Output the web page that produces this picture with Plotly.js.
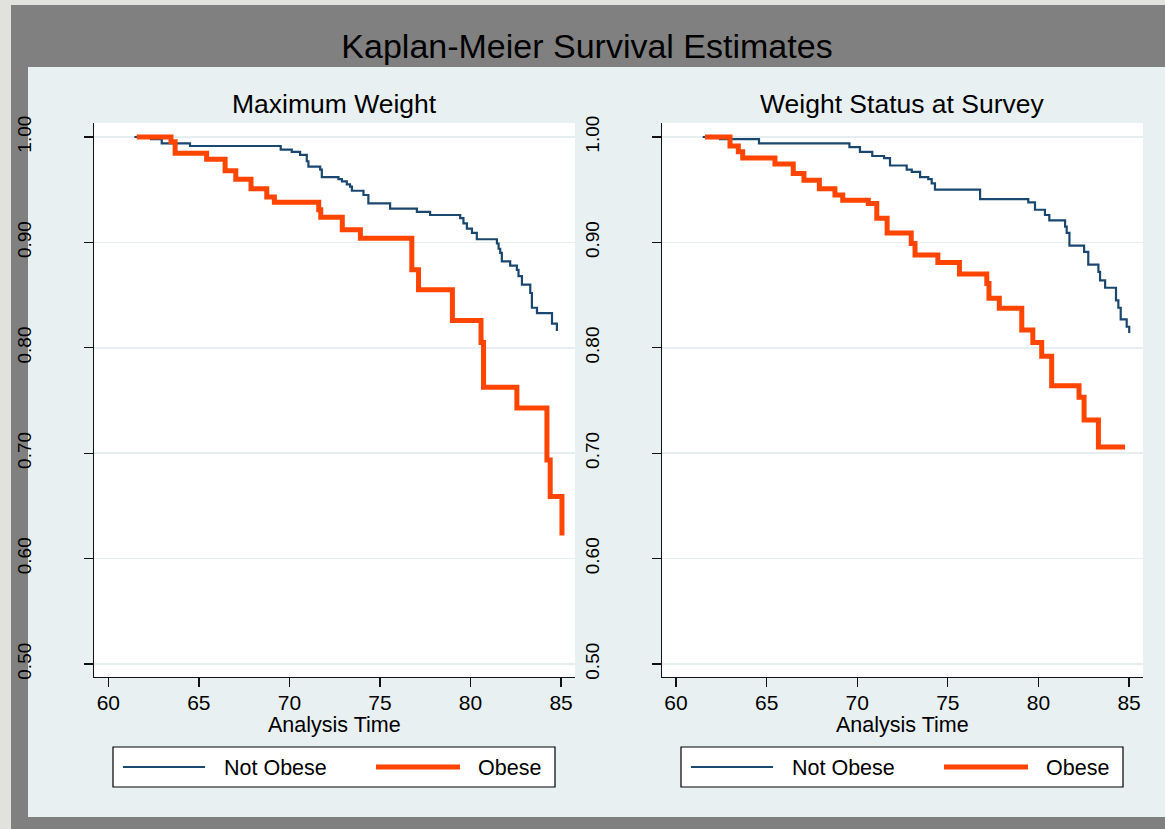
<!DOCTYPE html>
<html>
<head>
<meta charset="utf-8">
<script src="https://cdn.plot.ly/plotly-3.0.1.min.js"></script>
<style>html,body{margin:0;padding:0;background:#e8f0f2;}#chart{width:1165px;height:829px;}</style>
</head>
<body>
<div id="chart"></div>
<script>
// ---------- data ----------
const groupNames = ["Not Obese", "Obese"];
const panelTitles = ["Maximum Weight", "Weight Status at Survey"];
const mainTitle = "Kaplan-Meier Survival Estimates";
const xAxisTitle = "Analysis Time";
const xTickVals = [60, 65, 70, 75, 80, 85];
const yTickVals = [0.5, 0.6, 0.7, 0.8, 0.9, 1.0];

// Panel 1: Maximum Weight
const maxNotObeseTime = [61.44, 62.36, 62.95, 64.51, 69.52, 70.13, 70.59, 70.96, 71.05, 71.70, 71.79, 72.71, 72.90, 73.17, 73.35, 73.45, 74.09, 74.36, 75.56, 77.04, 77.77, 79.43, 79.61, 79.80, 80.08, 80.35, 81.46, 81.55, 81.64, 81.73, 82.19, 82.56, 82.65, 82.84, 83.30, 83.39, 83.67, 84.50, 84.77];
const maxNotObeseSurv = [1.000, 0.998, 0.994, 0.9915, 0.988, 0.986, 0.983, 0.977, 0.972, 0.969, 0.962, 0.960, 0.958, 0.955, 0.953, 0.949, 0.945, 0.937, 0.932, 0.929, 0.926, 0.923, 0.918, 0.913, 0.909, 0.903, 0.899, 0.894, 0.890, 0.882, 0.878, 0.874, 0.868, 0.860, 0.852, 0.838, 0.833, 0.823, 0.816];
const maxObeseTime = [61.57, 63.46, 63.69, 65.43, 66.45, 67.04, 67.88, 68.75, 69.17, 71.62, 71.73, 72.92, 73.92, 76.76, 77.13, 79.00, 80.58, 80.72, 82.56, 84.22, 84.40, 85.05];
const maxObeseSurv = [1.000, 0.9955, 0.9845, 0.979, 0.968, 0.960, 0.951, 0.943, 0.938, 0.931, 0.924, 0.912, 0.904, 0.874, 0.855, 0.826, 0.805, 0.7625, 0.743, 0.6935, 0.659, 0.622];

// Panel 2: Weight Status at Survey
const surveyNotObeseTime = [61.47, 62.43, 64.58, 69.57, 70.15, 70.83, 71.48, 71.81, 72.73, 73.01, 73.47, 73.92, 74.11, 74.29, 76.78, 79.44, 79.81, 80.36, 80.60, 81.47, 81.56, 81.71, 82.52, 82.75, 83.31, 83.40, 83.68, 84.28, 84.41, 84.54, 84.87, 85.01];
const surveyNotObeseSurv = [1.000, 0.998, 0.994, 0.9905, 0.986, 0.982, 0.980, 0.973, 0.969, 0.967, 0.962, 0.960, 0.956, 0.950, 0.941, 0.938, 0.931, 0.926, 0.921, 0.915, 0.909, 0.897, 0.891, 0.879, 0.872, 0.864, 0.857, 0.845, 0.838, 0.827, 0.820, 0.814];
const surveyObeseTime = [61.60, 62.98, 63.44, 63.68, 65.46, 66.47, 67.06, 67.91, 68.77, 69.20, 70.61, 71.08, 71.65, 72.98, 73.19, 74.45, 75.64, 77.15, 77.27, 77.84, 79.08, 79.69, 80.18, 80.73, 82.24, 82.52, 83.31, 84.78];
const surveyObeseSurv = [1.000, 0.9915, 0.986, 0.980, 0.9744, 0.9655, 0.959, 0.951, 0.945, 0.940, 0.937, 0.923, 0.909, 0.899, 0.888, 0.881, 0.870, 0.861, 0.847, 0.8375, 0.817, 0.805, 0.792, 0.764, 0.753, 0.7315, 0.706, 0.706];

// ---------- styling ----------
const W = 1165, H = 829;
const FONT = "Liberation Sans, Arial, Helvetica, sans-serif";
const NAVY = "#1a476f", ORANGE = "#ff4500";
const PANEL = "#e8f0f2", FRAME = "#808080", OUTER = "#e1e2dd", GRID = "#e6eef0";
const px = v => v / W;           // pixel -> paper x
const py = v => 1 - v / H;       // pixel -> paper y

function stepTrace(x, y, color, width, xa, ya, name) {
  return {x: x, y: y, type: "scatter", mode: "lines", name: name,
          line: {shape: "hv", color: color, width: width},
          xaxis: xa, yaxis: ya, showlegend: false, hoverinfo: "x+y"};
}

const data = [
  stepTrace(maxNotObeseTime, maxNotObeseSurv, NAVY, 2.2, "x", "y", groupNames[0]),
  stepTrace(maxObeseTime, maxObeseSurv, ORANGE, 5, "x", "y", groupNames[1]),
  stepTrace(surveyNotObeseTime, surveyNotObeseSurv, NAVY, 2.2, "x2", "y2", groupNames[0]),
  stepTrace(surveyObeseTime, surveyObeseSurv, ORANGE, 5, "x2", "y2", groupNames[1])
];

function xAx(d0, d1, r0) {
  return {domain: [px(d0), px(d1)], range: [r0, 85.77], tickvals: xTickVals,
          ticks: "outside", ticklen: 9, tickwidth: 1.3, tickcolor: "#111",
          showline: true, linecolor: "#111", linewidth: 1.3, showgrid: false, zeroline: false,
          ticklabelstandoff: -3,
          tickfont: {family: FONT, size: 21, color: "#000"}, fixedrange: true};
}
function yAx(anchor) {
  return {domain: [py(677), py(123)], range: [0.4877, 1.0133], tickvals: yTickVals,
          tickformat: ".2f", tickangle: -90, anchor: anchor,
          ticks: "outside", ticklen: 9, tickwidth: 1.3, tickcolor: "#111",
          showline: true, linecolor: "#111", linewidth: 1.3,
          showgrid: true, gridcolor: GRID, gridwidth: 1.5, zeroline: false,
          ticklabelstandoff: 45,
          tickfont: {family: FONT, size: 19, color: "#000"}, fixedrange: true};
}

const shapes = [
  {type: "rect", xref: "paper", yref: "paper", x0: 0, x1: 1, y0: py(5), y1: 1, fillcolor: OUTER, line: {width: 0}, layer: "below"},
  {type: "rect", xref: "paper", yref: "paper", x0: 0, x1: px(11), y0: 0, y1: 1, fillcolor: OUTER, line: {width: 0}, layer: "below"},
  {type: "rect", xref: "paper", yref: "paper", x0: px(11), x1: 1, y0: py(67), y1: py(5), fillcolor: FRAME, line: {width: 0}, layer: "below"},
  {type: "rect", xref: "paper", yref: "paper", x0: px(11), x1: px(28), y0: 0, y1: py(67), fillcolor: FRAME, line: {width: 0}, layer: "below"},
  {type: "rect", xref: "paper", yref: "paper", x0: px(28), x1: 1, y0: 0, y1: py(817), fillcolor: FRAME, line: {width: 0}, layer: "below"}
];
const annotations = [];

// panel titles and axis titles
[[334.5, 0], [902.5, 1]].forEach(([cx, i]) => {
  annotations.push({text: panelTitles[i], xref: "paper", yref: "paper", x: px(cx), y: py(104),
    xanchor: "center", yanchor: "middle", showarrow: false, font: {family: FONT, size: 26.5, color: "#000"}});
  annotations.push({text: xAxisTitle, xref: "paper", yref: "paper", x: px(cx), y: py(725),
    xanchor: "center", yanchor: "middle", showarrow: false, borderpad: 0,
    font: {family: FONT, size: 21.5, color: "#000"}});
});

// legends (one per panel)
[0, 568].forEach(off => {
  shapes.push({type: "rect", xref: "paper", yref: "paper", x0: px(113 + off), x1: px(555 + off), y0: py(787), y1: py(747),
    fillcolor: "#ffffff", line: {color: "#000", width: 1.2}, layer: "above"});
  shapes.push({type: "line", xref: "paper", yref: "paper", x0: px(123 + off), x1: px(205 + off), y0: py(767), y1: py(767),
    line: {color: NAVY, width: 2.2}, layer: "above"});
  shapes.push({type: "line", xref: "paper", yref: "paper", x0: px(376 + off), x1: px(460 + off), y0: py(767), y1: py(767),
    line: {color: ORANGE, width: 5}, layer: "above"});
  annotations.push({text: groupNames[0], xref: "paper", yref: "paper", x: px(222 + off), y: py(768),
    xanchor: "left", yanchor: "middle", showarrow: false, font: {family: FONT, size: 21.5, color: "#000"}});
  annotations.push({text: groupNames[1], xref: "paper", yref: "paper", x: px(476 + off), y: py(768),
    xanchor: "left", yanchor: "middle", showarrow: false, font: {family: FONT, size: 21.5, color: "#000"}});
});

const layout = {
  width: W, height: H, autosize: false,
  margin: {l: 0, r: 0, t: 0, b: 0, pad: 0},
  paper_bgcolor: PANEL, plot_bgcolor: "#ffffff",
  font: {family: FONT, color: "#000"},
  title: {text: mainTitle, font: {family: FONT, size: 34, color: "#000"},
          x: px(587), xref: "paper", xanchor: "center", y: py(46), yref: "paper", yanchor: "middle"},
  xaxis: xAx(94, 575, 59.21),
  yaxis: yAx("x"),
  xaxis2: Object.assign(xAx(662, 1143, 59.227), {anchor: "y2"}),
  yaxis2: yAx("x2"),
  showlegend: false,
  shapes: shapes,
  annotations: annotations
};
layout.xaxis.anchor = "y";

Plotly.newPlot("chart", data, layout, {displayModeBar: false, staticPlot: true});
</script>
</body>
</html>
